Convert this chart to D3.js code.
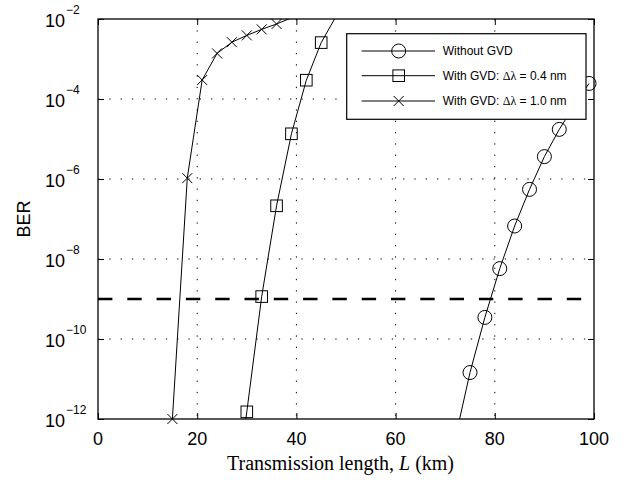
<!DOCTYPE html>
<html><head><meta charset="utf-8">
<script src="https://cdn.jsdelivr.net/npm/d3@7"></script>
<style>
body{margin:0;background:#fff;}
svg{display:block;}
</style></head>
<body>
<svg id="chart" width="627" height="482"></svg>
<script>
// ---- data ----
const lenNoGVD = [72, 75, 78, 81, 84, 87, 90, 93, 96, 99];
const berNoGVD = [3.16e-13, 1.45e-11, 3.47e-10, 5.75e-9, 6.68e-8, 5.5e-7, 3.63e-6, 1.74e-5, 6.76e-5, 2.45e-4];
const lenGVD04 = [27, 30, 33, 36, 39, 42, 45, 48];
const berGVD04 = [2.5e-15, 1.51e-12, 1.15e-9, 2.14e-7, 1.35e-5, 2.95e-4, 2.57e-3, 1.17e-2];
const lenGVD10 = [15, 18, 21, 24, 27, 30, 33, 36, 39];
const berGVD10 = [1e-12, 1.05e-6, 2.99e-4, 1.38e-3, 2.63e-3, 3.89e-3, 5.5e-3, 7.5e-3, 1.07e-2];
const thresholdBER = 1e-9;
const xTicks = [0, 20, 40, 60, 80, 100];
const yTickExps = [-2, -4, -6, -8, -10, -12];
const seriesNames = ["Without GVD", "With GVD: ", "With GVD: "];
const seriesDeltas = ["", "0.4", "1.0"];
const markerTypes = ["circle", "square", "cross"];
const xLabel = "Transmission length, ";
const yLabel = "BER";

// ---- layout ----
const W = 627, H = 482;
const m = {left: 98, right: 33, top: 19, bottom: 63};
const pw = W - m.left - m.right, ph = H - m.top - m.bottom;
const svg = d3.select("#chart");
const x = d3.scaleLinear().domain([0, 100]).range([m.left, m.left + pw]);
const y = d3.scaleLog().domain([1e-12, 1e-2]).range([m.top + ph, m.top]);

svg.append("defs").append("clipPath").attr("id", "clip")
  .append("rect").attr("x", m.left).attr("y", m.top).attr("width", pw).attr("height", ph);

// grid
const grid = svg.append("g").attr("stroke", "#000").attr("stroke-width", 1).attr("stroke-dasharray", "1.3,10");
xTicks.filter(t => t > 0 && t < 100).forEach(t => {
  grid.append("line").attr("x1", x(t)).attr("x2", x(t)).attr("y1", m.top).attr("y2", m.top + ph);
});
yTickExps.filter(e => e < -2 && e > -12).forEach(e => {
  grid.append("line").attr("y1", y(Math.pow(10, e))).attr("y2", y(Math.pow(10, e))).attr("x1", m.left).attr("x2", m.left + pw);
});

// axes via d3 axis (inward ticks)
const fmtNone = () => "";
const xAxisB = d3.axisBottom(x).tickValues(xTicks).tickSizeInner(-6).tickSizeOuter(0).tickFormat(fmtNone);
const xAxisT = d3.axisTop(x).tickValues(xTicks).tickSizeInner(-6).tickSizeOuter(0).tickFormat(fmtNone);
const yVals = yTickExps.map(e => Math.pow(10, e));
const yAxisL = d3.axisLeft(y).tickValues(yVals).tickSizeInner(-6).tickSizeOuter(0).tickFormat(fmtNone);
const yAxisR = d3.axisRight(y).tickValues(yVals).tickSizeInner(-6).tickSizeOuter(0).tickFormat(fmtNone);
[[xAxisB, `translate(0,${m.top + ph})`], [xAxisT, `translate(0,${m.top})`],
 [yAxisL, `translate(${m.left},0)`], [yAxisR, `translate(${m.left + pw},0)`]].forEach(([ax, tr]) => {
  const g = svg.append("g").attr("transform", tr).call(ax);
  g.select(".domain").remove();
  g.selectAll("line").attr("stroke", "#000").attr("stroke-width", 1);
});
svg.append("rect").attr("x", m.left).attr("y", m.top).attr("width", pw).attr("height", ph)
  .attr("fill", "none").attr("stroke", "#000").attr("stroke-width", 1.3);

// tick labels
const tl = svg.append("g").attr("font-family", "'Liberation Sans', Arial, Helvetica, sans-serif").attr("fill", "#000");
xTicks.forEach(t => {
  tl.append("text").attr("x", x(t)).attr("y", m.top + ph + 26).attr("text-anchor", "middle")
    .attr("font-size", 18).text(t);
});
yTickExps.forEach(e => {
  const yy = y(Math.pow(10, e));
  tl.append("text").attr("x", 65).attr("y", yy + 8).attr("text-anchor", "end").attr("font-size", 18).text("10");
  tl.append("text").attr("x", 66).attr("y", yy + 8 - 13.5).attr("text-anchor", "start").attr("font-size", 12)
    .text("\u2212" + Math.abs(e));
});

// axis labels
const xl = svg.append("text").attr("x", 340.5).attr("y", 470).attr("text-anchor", "middle")
  .attr("font-family", "'Liberation Serif', 'Times New Roman', serif").attr("font-size", 20);
xl.append("tspan").text(xLabel);
xl.append("tspan").attr("font-style", "italic").text("L");
xl.append("tspan").text(" (km)");
svg.append("text").attr("transform", `translate(30,${m.top + ph / 2}) rotate(-90)`).attr("text-anchor", "middle")
  .attr("font-family", "'Liberation Sans', Arial, sans-serif").attr("font-size", 18).text(yLabel);

// threshold
svg.append("line").attr("x1", x(0)).attr("x2", x(100)).attr("y1", y(thresholdBER)).attr("y2", y(thresholdBER))
  .attr("stroke", "#000").attr("stroke-width", 2.5).attr("stroke-dasharray", "14.4,14.9");

// series
const series = [
  {xs: lenNoGVD, ys: berNoGVD, mk: markerTypes[0]},
  {xs: lenGVD04, ys: berGVD04, mk: markerTypes[1]},
  {xs: lenGVD10, ys: berGVD10, mk: markerTypes[2]},
];
const line = d3.line().x(d => x(d[0])).y(d => y(d[1]));
function drawMarker(g, type, cx, cy) {
  if (type === "circle") {
    g.append("circle").attr("cx", cx).attr("cy", cy).attr("r", 7).attr("fill", "none").attr("stroke", "#000").attr("stroke-width", 1);
  } else if (type === "square") {
    g.append("rect").attr("x", cx - 5.8).attr("y", cy - 5.8).attr("width", 11.6).attr("height", 11.6)
      .attr("fill", "none").attr("stroke", "#000").attr("stroke-width", 1);
  } else {
    g.append("path").attr("d", `M${cx-5},${cy-5}L${cx+5},${cy+5}M${cx-5},${cy+5}L${cx+5},${cy-5}`)
      .attr("stroke", "#000").attr("stroke-width", 1).attr("fill", "none");
  }
}
series.forEach(s => {
  const pts = s.xs.map((v, i) => [v, s.ys[i]]);
  svg.append("path").attr("clip-path", "url(#clip)").attr("d", line(pts))
    .attr("fill", "none").attr("stroke", "#000").attr("stroke-width", 1);
  const g = svg.append("g");
  pts.forEach(p => {
    if (p[1] >= 0.999e-12 && p[1] <= 1.001e-2 && p[0] >= 0 && p[0] <= 100) drawMarker(g, s.mk, x(p[0]), y(p[1]));
  });
});

// legend
const lg = svg.append("g");
lg.append("rect").attr("x", 346.7).attr("y", 33.7).attr("width", 239.3).attr("height", 85.6)
  .attr("fill", "#fff").attr("stroke", "#000").attr("stroke-width", 1.2);
const rows = [51, 75.7, 101];
series.forEach((s, i) => {
  lg.append("line").attr("x1", 361.7).attr("x2", 435).attr("y1", rows[i]).attr("y2", rows[i]).attr("stroke", "#000").attr("stroke-width", 1);
  drawMarker(lg, s.mk, 398.7, rows[i]);
  const t = lg.append("text").attr("x", 442.7).attr("y", rows[i] + 4.3)
    .attr("font-family", "'Liberation Sans', Arial, sans-serif").attr("font-size", 12);
  t.append("tspan").text(seriesNames[i]);
  if (seriesDeltas[i]) {
    t.append("tspan").attr("font-family", "'Liberation Serif', serif").text("\u0394\u03bb");
    t.append("tspan").text(" = " + seriesDeltas[i] + " nm");
  }
});
</script>
</body></html>
